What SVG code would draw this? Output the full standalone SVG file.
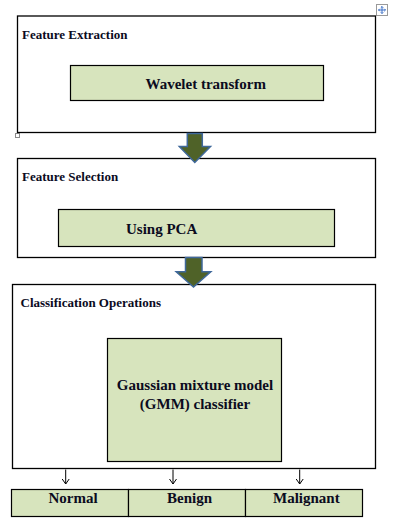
<svg xmlns="http://www.w3.org/2000/svg" width="405" height="526" viewBox="0 0 405 526">
<style>
.outer{fill:#fff;stroke:#000;stroke-width:1.3}
.inner{fill:#d7e4bd;stroke:#000;stroke-width:1.2}
text{font-family:'Liberation Serif','Times New Roman','DejaVu Serif',serif;font-weight:bold;fill:#0b0b1e}
.title{font-size:13px}
.lbl{font-size:15px}
.big{fill:#4f6228;stroke:#3f689a;stroke-width:1.5}
.small{stroke:#000;stroke-width:1;fill:none}
</style>
<defs>
<marker id="open" markerWidth="8" markerHeight="8" refX="7" refY="4" orient="auto" markerUnits="userSpaceOnUse">
<path d="M2,0.5 L7,4 L2,7.5" fill="none" stroke="#000" stroke-width="1"/>
</marker>
</defs>
<rect width="405" height="526" fill="#fff"/>
<g id="decor">
<rect x="376.5" y="4.5" width="11" height="11" fill="#fff" stroke="#9a9a9a" stroke-width="1"/>
<path d="M382,6.5 V13.5 M378.5,10 H385.5 M380.8,7.7 L382,6.5 L383.2,7.7 M380.8,12.3 L382,13.5 L383.2,12.3 M379.7,8.8 L378.5,10 L379.7,11.2 M384.3,8.8 L385.5,10 L384.3,11.2" stroke="#3b6fc6" stroke-width="1" fill="none"/>
<rect x="15.5" y="133.5" width="4" height="4" fill="#fff" stroke="#8a8a8a" stroke-width="1"/>
</g>
<g id="feature-extraction">
<rect class="outer" x="17.5" y="16" width="358" height="116.5"/>
<text class="title" x="22" y="39">Feature Extraction</text>
<rect class="inner" x="70.5" y="65.5" width="253" height="35"/>
<text class="lbl" x="145.5" y="89">Wavelet transform</text>
</g>
<g id="feature-selection">
<rect class="outer" x="17.5" y="158.5" width="358" height="99"/>
<text class="title" x="22" y="181">Feature Selection</text>
<rect class="inner" x="58.5" y="209.5" width="276" height="37"/>
<text class="lbl" x="126" y="234">Using PCA</text>
</g>
<g id="classification-operations">
<rect class="outer" x="12.5" y="284.5" width="363" height="184"/>
<text class="title" x="20.5" y="307">Classification Operations</text>
<rect class="inner" x="107.5" y="338.5" width="174" height="123"/>
<text class="lbl" x="195" y="389.5" text-anchor="middle">Gaussian mixture model</text>
<text class="lbl" x="195" y="408.5" text-anchor="middle">(GMM) classifier</text>
</g>
<g id="normal">
<rect class="inner" x="11.5" y="489.5" width="117" height="27"/>
<text class="lbl" x="48.5" y="502.5">Normal</text>
</g>
<g id="benign">
<rect class="inner" x="128.5" y="489.5" width="117" height="27"/>
<text class="lbl" x="167" y="502.5">Benign</text>
</g>
<g id="malignant">
<rect class="inner" x="245.5" y="489.5" width="117" height="27"/>
<text class="lbl" x="273" y="502.5">Malignant</text>
</g>
<g id="connectors">
<path class="big" d="M187.3,133.5 H202.3 V146.5 H210.5 L194.8,162.5 L179.3,146.5 H187.3 Z"/>
<path class="big" d="M185.5,257.5 H202 V271.7 H210.8 L193.5,287 L176.2,271.7 H185.5 Z"/>
<line class="small" x1="65.7" y1="469.5" x2="65.7" y2="484" marker-end="url(#open)"/>
<line class="small" x1="173" y1="469.5" x2="173" y2="484" marker-end="url(#open)"/>
<line class="small" x1="299.7" y1="469.5" x2="299.7" y2="484" marker-end="url(#open)"/>
</g>
</svg>
